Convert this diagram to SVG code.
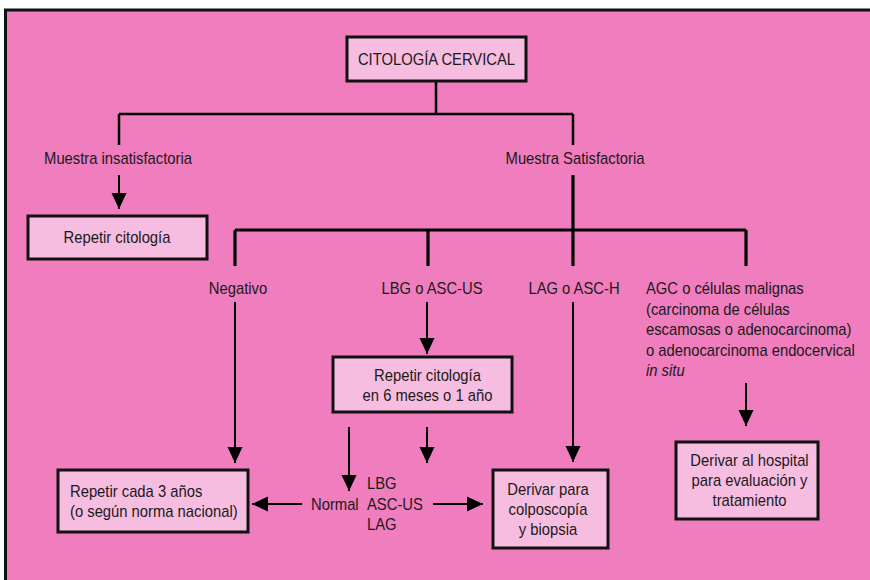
<svg xmlns="http://www.w3.org/2000/svg" width="870" height="580" viewBox="0 0 870 580">
<style>
text{font-family:"Liberation Sans",Arial,sans-serif;font-size:17px;fill:#1a1a1a}
.c{text-anchor:middle}
.box{fill:#f7bde0;stroke:#111;stroke-width:3}
.ln{stroke:#000;stroke-width:2.5;fill:none}
.lnb{stroke:#000;stroke-width:3.2;fill:none}
.ar{stroke:#000;stroke-width:2;fill:none;marker-end:url(#ah)}
</style>
<defs>
<marker id="ah" markerUnits="userSpaceOnUse" markerWidth="16" markerHeight="16" refX="16" refY="8" orient="auto" viewBox="0 0 16 16">
<path d="M0,0.5 L16,8 L0,15.5 z" fill="#000"/>
</marker>
</defs>
<rect x="0" y="0" width="870" height="580" fill="#fff"/>
<rect x="5.5" y="10" width="880" height="590" fill="#f07dbe" stroke="#111" stroke-width="3"/>
<g id="connectors">
<path class="ln" d="M436,81 V114 M119,114 H573 M119,114 V145 M573,114 V145"/>
<path class="lnb" d="M573,175 V266 M235,230 H746 M235,230 V266 M428,230 V266 M746,230 V266"/>
<line class="ar" x1="119" y1="175" x2="119" y2="209"/>
<line class="ar" x1="235" y1="302" x2="235" y2="463"/>
<line class="ar" x1="427" y1="302" x2="427" y2="354"/>
<line class="ar" x1="573" y1="302" x2="573" y2="462"/>
<line class="ar" x1="746" y1="383" x2="746" y2="426"/>
<line class="ar" x1="349" y1="427" x2="349" y2="491"/>
<line class="ar" x1="427" y1="427" x2="427" y2="463"/>
<line class="ar" x1="302" y1="504" x2="252" y2="504"/>
<line class="ar" x1="433" y1="504" x2="483" y2="504"/>
</g>
<g id="labels">
<text class="c" transform="translate(118 164) scale(.87 1)">Muestra insatisfactoria</text>
<text class="c" transform="translate(575 164) scale(.87 1)">Muestra Satisfactoria</text>
<text class="c" transform="translate(238 294) scale(.87 1)">Negativo</text>
<text class="c" transform="translate(432 294) scale(.87 1)">LBG o ASC-US</text>
<text class="c" transform="translate(574 294) scale(.87 1)">LAG o ASC-H</text>
<text transform="translate(646 294) scale(.87 1)">AGC o células malignas</text>
<text transform="translate(646 314.5) scale(.87 1)">(carcinoma de células</text>
<text transform="translate(646 335) scale(.87 1)">escamosas o adenocarcinoma)</text>
<text transform="translate(646 355.5) scale(.87 1)">o adenocarcinoma endocervical</text>
<text transform="translate(646 376) scale(.87 1)" font-style="italic">in situ</text>
<text transform="translate(311 510) scale(.87 1)">Normal</text>
<text transform="translate(367 489) scale(.87 1)">LBG</text>
<text transform="translate(367 510) scale(.87 1)">ASC-US</text>
<text transform="translate(367 530) scale(.87 1)">LAG</text>
</g>
<g id="citologia">
<rect class="box" x="347" y="37" width="179" height="44"/>
<text class="c" transform="translate(436.5 65) scale(.87 1)">CITOLOGÍA CERVICAL</text>
</g>
<g id="repetir1">
<rect class="box" x="28" y="216" width="179" height="43"/>
<text class="c" transform="translate(117 243) scale(.87 1)">Repetir citología</text>
</g>
<g id="repetir6">
<rect class="box" x="333" y="357" width="179" height="55"/>
<text class="c" transform="translate(427.5 381) scale(.87 1)">Repetir citología</text>
<text class="c" transform="translate(427.5 401) scale(.87 1)">en 6 meses o 1 año</text>
</g>
<g id="repetir3">
<rect class="box" x="58" y="470" width="190" height="62"/>
<text transform="translate(70 497) scale(.87 1)">Repetir cada 3 años</text>
<text transform="translate(70 517) scale(.87 1)">(o según norma nacional)</text>
</g>
<g id="colposcopia">
<rect class="box" x="493" y="470" width="115" height="78"/>
<text class="c" transform="translate(548 495) scale(.87 1)">Derivar para</text>
<text class="c" transform="translate(548 515) scale(.87 1)">colposcopía</text>
<text class="c" transform="translate(548 535) scale(.87 1)">y biopsia</text>
</g>
<g id="hospital">
<rect class="box" x="676" y="442" width="142" height="77"/>
<text class="c" transform="translate(749.5 466) scale(.87 1)">Derivar al hospital</text>
<text class="c" transform="translate(749.5 486) scale(.87 1)">para evaluación y</text>
<text class="c" transform="translate(749.5 506) scale(.87 1)">tratamiento</text>
</g>
</svg>
